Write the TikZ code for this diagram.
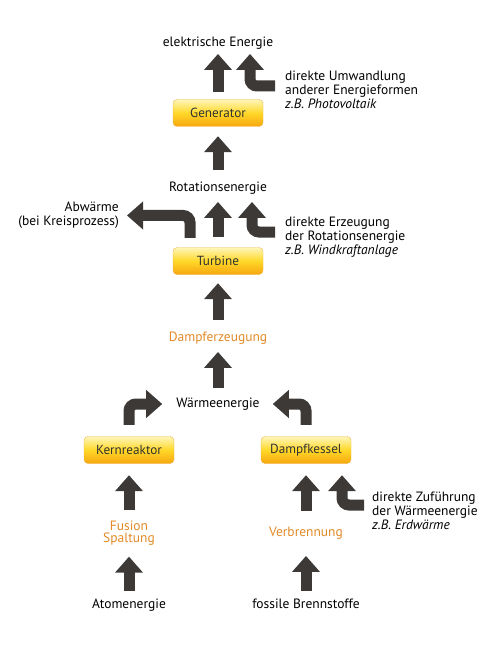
\documentclass[tikz,border=0pt]{standalone}
\usepackage{fontspec}
\setmainfont{PT Sans}
\usetikzlibrary{arrows.meta,positioning}

\definecolor{boxline}{RGB}{238,180,70}
\definecolor{boxtop}{RGB}{255,246,185}
\definecolor{boxmid}{RGB}{255,216,40}
\definecolor{boxbot}{RGB}{246,166,16}
\definecolor{arrowgrey}{RGB}{60,57,55}
\definecolor{procorange}{RGB}{226,138,40}

\tikzset{
    machine/.style={draw=boxline,rounded corners=4pt,top color=boxtop,bottom color=boxbot,middle color=boxmid,
        minimum width=90pt,minimum height=27pt,inner sep=2pt,text=black!80,font=\fontsize{13.2}{14}\selectfont},
    energy/.style={inner sep=1pt,text height=9.5pt,text depth=3pt,font=\fontsize{13.5}{14}\selectfont},
    process/.style={energy,text=procorange},
    note/.style={inner sep=0pt,font=\fontsize{13.5}{14}\selectfont},
    flow/.style={draw=arrowgrey,line width=11pt,-{Triangle[width=27pt,length=16pt]}},
}

\begin{document}
\begin{tikzpicture}[x=1pt,y=-1pt]
    \useasboundingbox (0,0) rectangle (500,655);

    \node[energy]   (elek)   at (218,43)  {elektrische Energie};
    \node[machine]  (gen)    at (218,113) {Generator};
    \node[energy]   (rot)    at (218,188) {Rotationsenergie};
    \node[machine]  (tur)    at (218,261) {Turbine};
    \node[process]  (dampf)  at (218,338) {Dampferzeugung};
    \node[energy]   (waerme) at (218,404) {Wärmeenergie};
    \node[machine]  (kern)   at (129,450) {Kernreaktor};
    \node[machine]  (kessel) at (306,450) {Dampfkessel};
    \node[text=procorange,align=center,inner sep=1pt,font=\fontsize{13.5}{12.5}\selectfont]
                    (spalt)  at (129,533) {Fusion\\Spaltung};
    \node[process]  (verb)   at (306,533) {Verbrennung};
    \node[energy]   (atom)   at (129,605) {Atomenergie};
    \node[energy]   (fossil) at (306,605) {fossile Brennstoffe};

    \node[note,align=left,anchor=north west]  (umw)  at (285,71)  {direkte Umwandlung\\anderer Energieformen\\\textit{z.B. Photovoltaik}};
    \node[note,align=right,anchor=north east] (abw)  at (119,202) {Abwärme\\(bei Kreisprozess)};
    \node[note,align=left,anchor=north west]  (wind) at (285,217) {direkte Erzeugung\\der Rotationsenergie\\\textit{z.B. Windkraftanlage}};
    \node[note,align=left,anchor=north west]  (erd)  at (372,492) {direkte Zuführung\\der Wärmeenergie\\\textit{z.B. Erdwärme}};

    \coordinate (umwin)  at (275,86);
    \coordinate (windin) at (275,232);
    \coordinate (erdin)  at (364,505);

    % main chain
    \draw[flow,shorten <=7.5pt,shorten >=3.5pt] (gen)    -- (elek);
    \draw[flow,shorten <=10.5pt,shorten >=9.5pt] (rot)   -- (gen);
    \draw[flow,shorten <=10.5pt,shorten >=6.5pt] (tur)   -- (rot);
    \draw[flow,shorten <=10.5pt,shorten >=8.5pt] (dampf) -- (tur);
    \draw[flow,shorten <=8.5pt,shorten >=6.5pt]  (waerme) -- (dampf);
    \draw[flow,shorten <=9pt,shorten >=11.5pt]   (spalt) -- (kern);
    \draw[flow,shorten <=14.5pt,shorten >=11.5pt] (verb) -- (kessel);
    \draw[flow,shorten <=6.5pt,shorten >=10pt]   (atom)  -- (spalt);
    \draw[flow,shorten <=6.5pt,shorten >=15.5pt] (fossil) -- (verb);

    % bent arrows
    \draw[flow,rounded corners=7pt,shorten <=11.5pt,shorten >=13pt] (kern.north) |- (waerme.west);
    \draw[flow,rounded corners=7pt,shorten <=11.5pt,shorten >=12pt] (kessel.north) |- (waerme.east);
    \draw[flow,rounded corners=7pt,shorten <=9.5pt,shorten >=8pt] ([xshift=-28pt]tur.north) |- (abw.east);
    \draw[flow,rounded corners=7pt,shorten >=3.5pt]  (umwin)  -| ([xshift=32pt]elek.south);
    \draw[flow,rounded corners=7pt,shorten >=6.5pt]  (windin) -| ([xshift=34pt]rot.south);
    \draw[flow,rounded corners=7pt,shorten >=11.5pt] (erdin)  -| ([xshift=36pt]kessel.south);
\end{tikzpicture}
\end{document}
